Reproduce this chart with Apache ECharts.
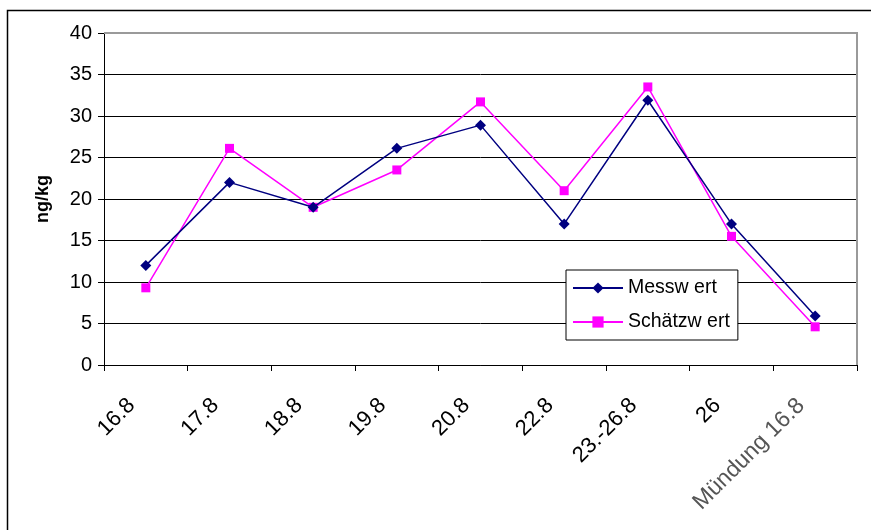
<!DOCTYPE html>
<html>
<head>
<meta charset="utf-8">
<script src="https://cdn.jsdelivr.net/npm/echarts@6/dist/echarts.min.js"></script>
<style>
  html, body { margin: 0; padding: 0; background: #fff; }
  #chart { width: 871px; height: 530px; }
</style>
</head>
<body>
<div id="chart"></div>
<script>
var categories = ['16.8', '17.8', '18.8', '19.8', '20.8', '22.8', '23.-26.8', '26', 'Mündung 16.8'];
var messwert = [12, 22, 19, 26.1, 28.9, 17, 31.9, 17, 5.9];
var schaetzwert = [9.3, 26.1, 19, 23.5, 31.7, 21, 33.5, 15.5, 4.6];
var yTicks = [0, 5, 10, 15, 20, 25, 30, 35, 40];

var chart = echarts.init(document.getElementById('chart'), null, { renderer: 'canvas' });

var option = {
  backgroundColor: '#fff',
  animation: false,
  textStyle: { fontFamily: 'Liberation Sans, Arial, sans-serif' },
  graphic: [{
    // äußerer Rahmen
    type: 'rect',
    shape: { x: 7.5, y: 10.5, width: 900, height: 600 },
    style: { fill: 'none', stroke: '#000', lineWidth: 1.5 },
    z: 0
  }, {
    // Plotrahmen oben/rechts (grau)
    type: 'polyline',
    shape: { points: [[104, 33], [857, 33], [857, 365]] },
    style: { stroke: '#9a9a9a', lineWidth: 2, fill: 'none' },
    z: 1
  }],
  grid: { left: 104, right: 14, top: 33, bottom: 165 },
  legend: {
    orient: 'vertical',
    left: 566,
    top: 270,
    backgroundColor: '#fff',
    borderColor: '#000',
    borderWidth: 1,
    padding: [8, 8, 8, 6],
    itemGap: 14,
    itemWidth: 50,
    itemHeight: 14,
    textStyle: { fontSize: 19.5, color: '#000' },
    data: ['Messw ert', 'Schätzw ert']
  },
  xAxis: {
    type: 'category',
    data: categories,
    boundaryGap: true,
    axisLine: { lineStyle: { color: '#000', width: 1 } },
    axisTick: { show: true, alignWithLabel: false, length: 6, lineStyle: { color: '#000' } },
    axisLabel: {
      rotate: 45,
      margin: 23,
      fontSize: 22,
      color: '#000',
      interval: 0,
      padding: [0, 20, 0, 0],
      formatter: function (v, i) { return i === categories.length - 1 ? '{m|' + v + '}' : v; },
      rich: { m: { fontSize: 23, color: '#555' } }
    }
  },
  yAxis: {
    type: 'value',
    min: yTicks[0],
    max: yTicks[yTicks.length - 1],
    interval: 5,
    name: 'ng/kg',
    nameLocation: 'middle',
    nameGap: 52,
    nameRotate: 90,
    nameTextStyle: { fontSize: 18, fontWeight: 'bold', color: '#000' },
    axisLine: { show: true, lineStyle: { color: '#000', width: 1 } },
    axisTick: { show: true, length: 6, lineStyle: { color: '#000' } },
    axisLabel: { fontSize: 20, color: '#000', margin: 12 },
    splitLine: { lineStyle: { color: '#000', width: 1 } }
  },
  series: [{
    name: 'Messw ert',
    type: 'line',
    data: messwert,
    symbol: 'diamond',
    symbolSize: 11,
    color: '#000080',
    lineStyle: { color: '#000080', width: 1.5 },
    itemStyle: { color: '#000080' },
    z: 3
  }, {
    name: 'Schätzw ert',
    type: 'line',
    data: schaetzwert,
    symbol: 'rect',
    symbolSize: 9,
    color: '#ff00ff',
    lineStyle: { color: '#ff00ff', width: 1.5 },
    itemStyle: { color: '#ff00ff' },
    z: 2
  }]
};

chart.setOption(option);
</script>
</body>
</html>
